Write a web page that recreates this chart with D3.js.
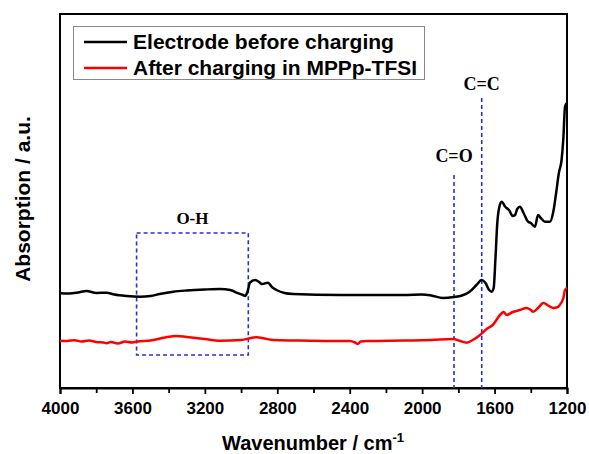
<!DOCTYPE html>
<html><head><meta charset="utf-8">
<script src="https://cdn.jsdelivr.net/npm/d3@7/dist/d3.min.js"></script>
<style>body{margin:0;background:#fff}svg{display:block}</style>
</head><body>
<svg id="c" width="589" height="454"></svg>
<script>
// Data (wavenumber cm-1, absorption a.u.)
const blackWn = [4000,3950,3900,3853,3800,3742,3700,3632,3558,3500,3450,3374,3300,3200,3116,3060,3024,2990,2978,2965,2951,2923,2900,2886,2851,2830,2804,2760,2712,2454,2233,2100,2000,1950,1885,1824,1780,1740,1700,1671,1650,1630,1616,1605,1595,1585,1575,1561,1540,1520,1500,1487,1475,1460,1440,1415,1400,1377,1360,1345,1322,1294,1277,1260,1245,1230,1220,1211,1200];
const blackAbs = [94.7,94.5,95.5,97,95,95.3,93.5,92,91.3,92,94,96.3,97.5,98.5,99,98,95.3,93,92,96,105.3,108,106,104,105.3,101,98,95,94,93,93,93,93.5,92.5,90,91,92.5,96,103,108,105,98,96.3,100,130,165,180,186.3,181,178,172,173,179,181.3,175,166.3,165,161.3,173,170,166.3,166.3,175,195,215,228,250,281.3,285];
const redWn = [4000,3960,3920,3880,3840,3800,3760,3742,3720,3680,3640,3600,3577,3500,3420,3356,3300,3200,3116,3000,2969,2914,2870,2822,2700,2500,2400,2370,2355,2340,2300,2100,1950,1830,1790,1754,1720,1680,1644,1610,1570,1550,1533,1500,1460,1423,1400,1387,1360,1330,1300,1277,1250,1240,1220,1211,1200];
const redAbs = [47.3,47,47.8,46.5,47.5,46,45.5,44.7,46,44.5,46.5,45.5,46.3,47.5,50.5,52,51,49,47.3,48,49,50.7,49.5,48,47.5,47,47,45.5,44,46.5,47,47.5,48,49,47,45.3,48,53,59,63,73,76,73,76,78,80,78,76.3,80,85,82,80,81,83,90,98,100];
const majorTicks = [4000,3600,3200,2800,2400,2000,1600,1200];
const minorTicks = [3800,3400,3000,2600,2200,1800,1400];
const seriesNames = ["Electrode before charging","After charging in MPPp-TFSI"];
const peakLines = [{label:"C=O", wn:1824, top:213},{label:"C=C", wn:1671, top:290}];
const ohBox = {wn0:3577, wn1:2960, a0:33, a1:155, label:"O-H"};

const svg = d3.select("#c");
const L=60, R=567, T=14, B=388;
const x = d3.scaleLinear().domain([4000,1200]).range([L,R]);
const y = d3.scaleLinear().domain([0,374]).range([B,T]);
const SANS="Liberation Sans, Arial, sans-serif", SERIF="Liberation Serif, Times New Roman, serif";

// frame
svg.append("rect").attr("x",L).attr("y",T).attr("width",R-L).attr("height",B-T)
  .attr("fill","none").attr("stroke","#000").attr("stroke-width",2);

// x axis
const ax = svg.append("g").attr("transform",`translate(0,${B})`)
  .call(d3.axisBottom(x).tickValues(majorTicks).tickSize(6).tickFormat(d3.format("d")));
ax.select(".domain").attr("stroke-width",2);
ax.selectAll(".tick line").attr("stroke-width",1.8);
ax.selectAll("text").attr("font-family",SANS).attr("font-weight","bold").attr("font-size",17).attr("dy","1.02em").attr("fill","#000");
const axm = svg.append("g").attr("transform",`translate(0,${B})`)
  .call(d3.axisBottom(x).tickValues(minorTicks).tickSize(5).tickFormat(""));
axm.select(".domain").remove();
axm.selectAll(".tick line").attr("stroke-width",1.8);

// titles
const xt = svg.append("text").attr("x",313).attr("y",450).attr("text-anchor","middle")
  .attr("font-family",SANS).attr("font-weight","bold").attr("font-size",20);
xt.append("tspan").text("Wavenumber / cm");
xt.append("tspan").attr("dy",-8).attr("font-size",13).text("-1");
svg.append("text").attr("transform","translate(30,199) rotate(-90)").attr("text-anchor","middle")
  .attr("font-family",SANS).attr("font-weight","bold").attr("font-size",21).text("Absorption / a.u.");

// dashed annotations
const blue="#2a2ee0";
svg.append("rect").attr("x",x(ohBox.wn0)).attr("y",y(ohBox.a1)).attr("width",x(ohBox.wn1)-x(ohBox.wn0)).attr("height",y(ohBox.a0)-y(ohBox.a1))
  .attr("fill","none").attr("stroke",blue).attr("stroke-width",1.6).attr("stroke-dasharray","4,3");
svg.append("text").attr("x",(x(ohBox.wn0)+x(ohBox.wn1))/2).attr("y",y(ohBox.a1)-9).attr("text-anchor","middle")
  .attr("font-family",SERIF).attr("font-weight","bold").attr("font-size",17).text(ohBox.label);
const labelGap = [13, 8];
peakLines.forEach((p,i)=>{
  svg.append("line").attr("x1",x(p.wn)).attr("x2",x(p.wn)).attr("y1",y(p.top)).attr("y2",B)
    .attr("stroke",blue).attr("stroke-width",1.6).attr("stroke-dasharray","4,3");
  svg.append("text").attr("x",x(p.wn)).attr("y",y(p.top)-labelGap[i]).attr("text-anchor","middle")
    .attr("font-family",SERIF).attr("font-weight","bold").attr("font-size",18).text(p.label);
});

// curves
const line = d3.line().x(d=>x(d[0])).y(d=>y(d[1])).curve(d3.curveMonotoneX);
svg.append("path").datum(redWn.map((w,i)=>[w,redAbs[i]])).attr("d",line)
  .attr("fill","none").attr("stroke","#ff0000").attr("stroke-width",2.5);
svg.append("path").datum(blackWn.map((w,i)=>[w,blackAbs[i]])).attr("d",line)
  .attr("fill","none").attr("stroke","#000").attr("stroke-width",2.5);

// legend
const lg = svg.append("g");
lg.append("rect").attr("x",73.5).attr("y",26.5).attr("width",351).attr("height",53)
  .attr("fill","#fff").attr("stroke","#888").attr("stroke-width",1);
const legW = [261, 284];
[["#000",0],["#ff0000",1]].forEach(([c,i])=>{
  const yy = 42 + i*26;
  lg.append("line").attr("x1",84).attr("x2",127).attr("y1",yy).attr("y2",yy).attr("stroke",c).attr("stroke-width",2.5);
  lg.append("text").attr("x",133).attr("y",yy+6.5).attr("font-family",SANS)
    .attr("font-weight","bold").attr("font-size",20).attr("textLength",legW[i]).attr("lengthAdjust","spacingAndGlyphs").text(seriesNames[i]);
});
</script>
</body></html>
